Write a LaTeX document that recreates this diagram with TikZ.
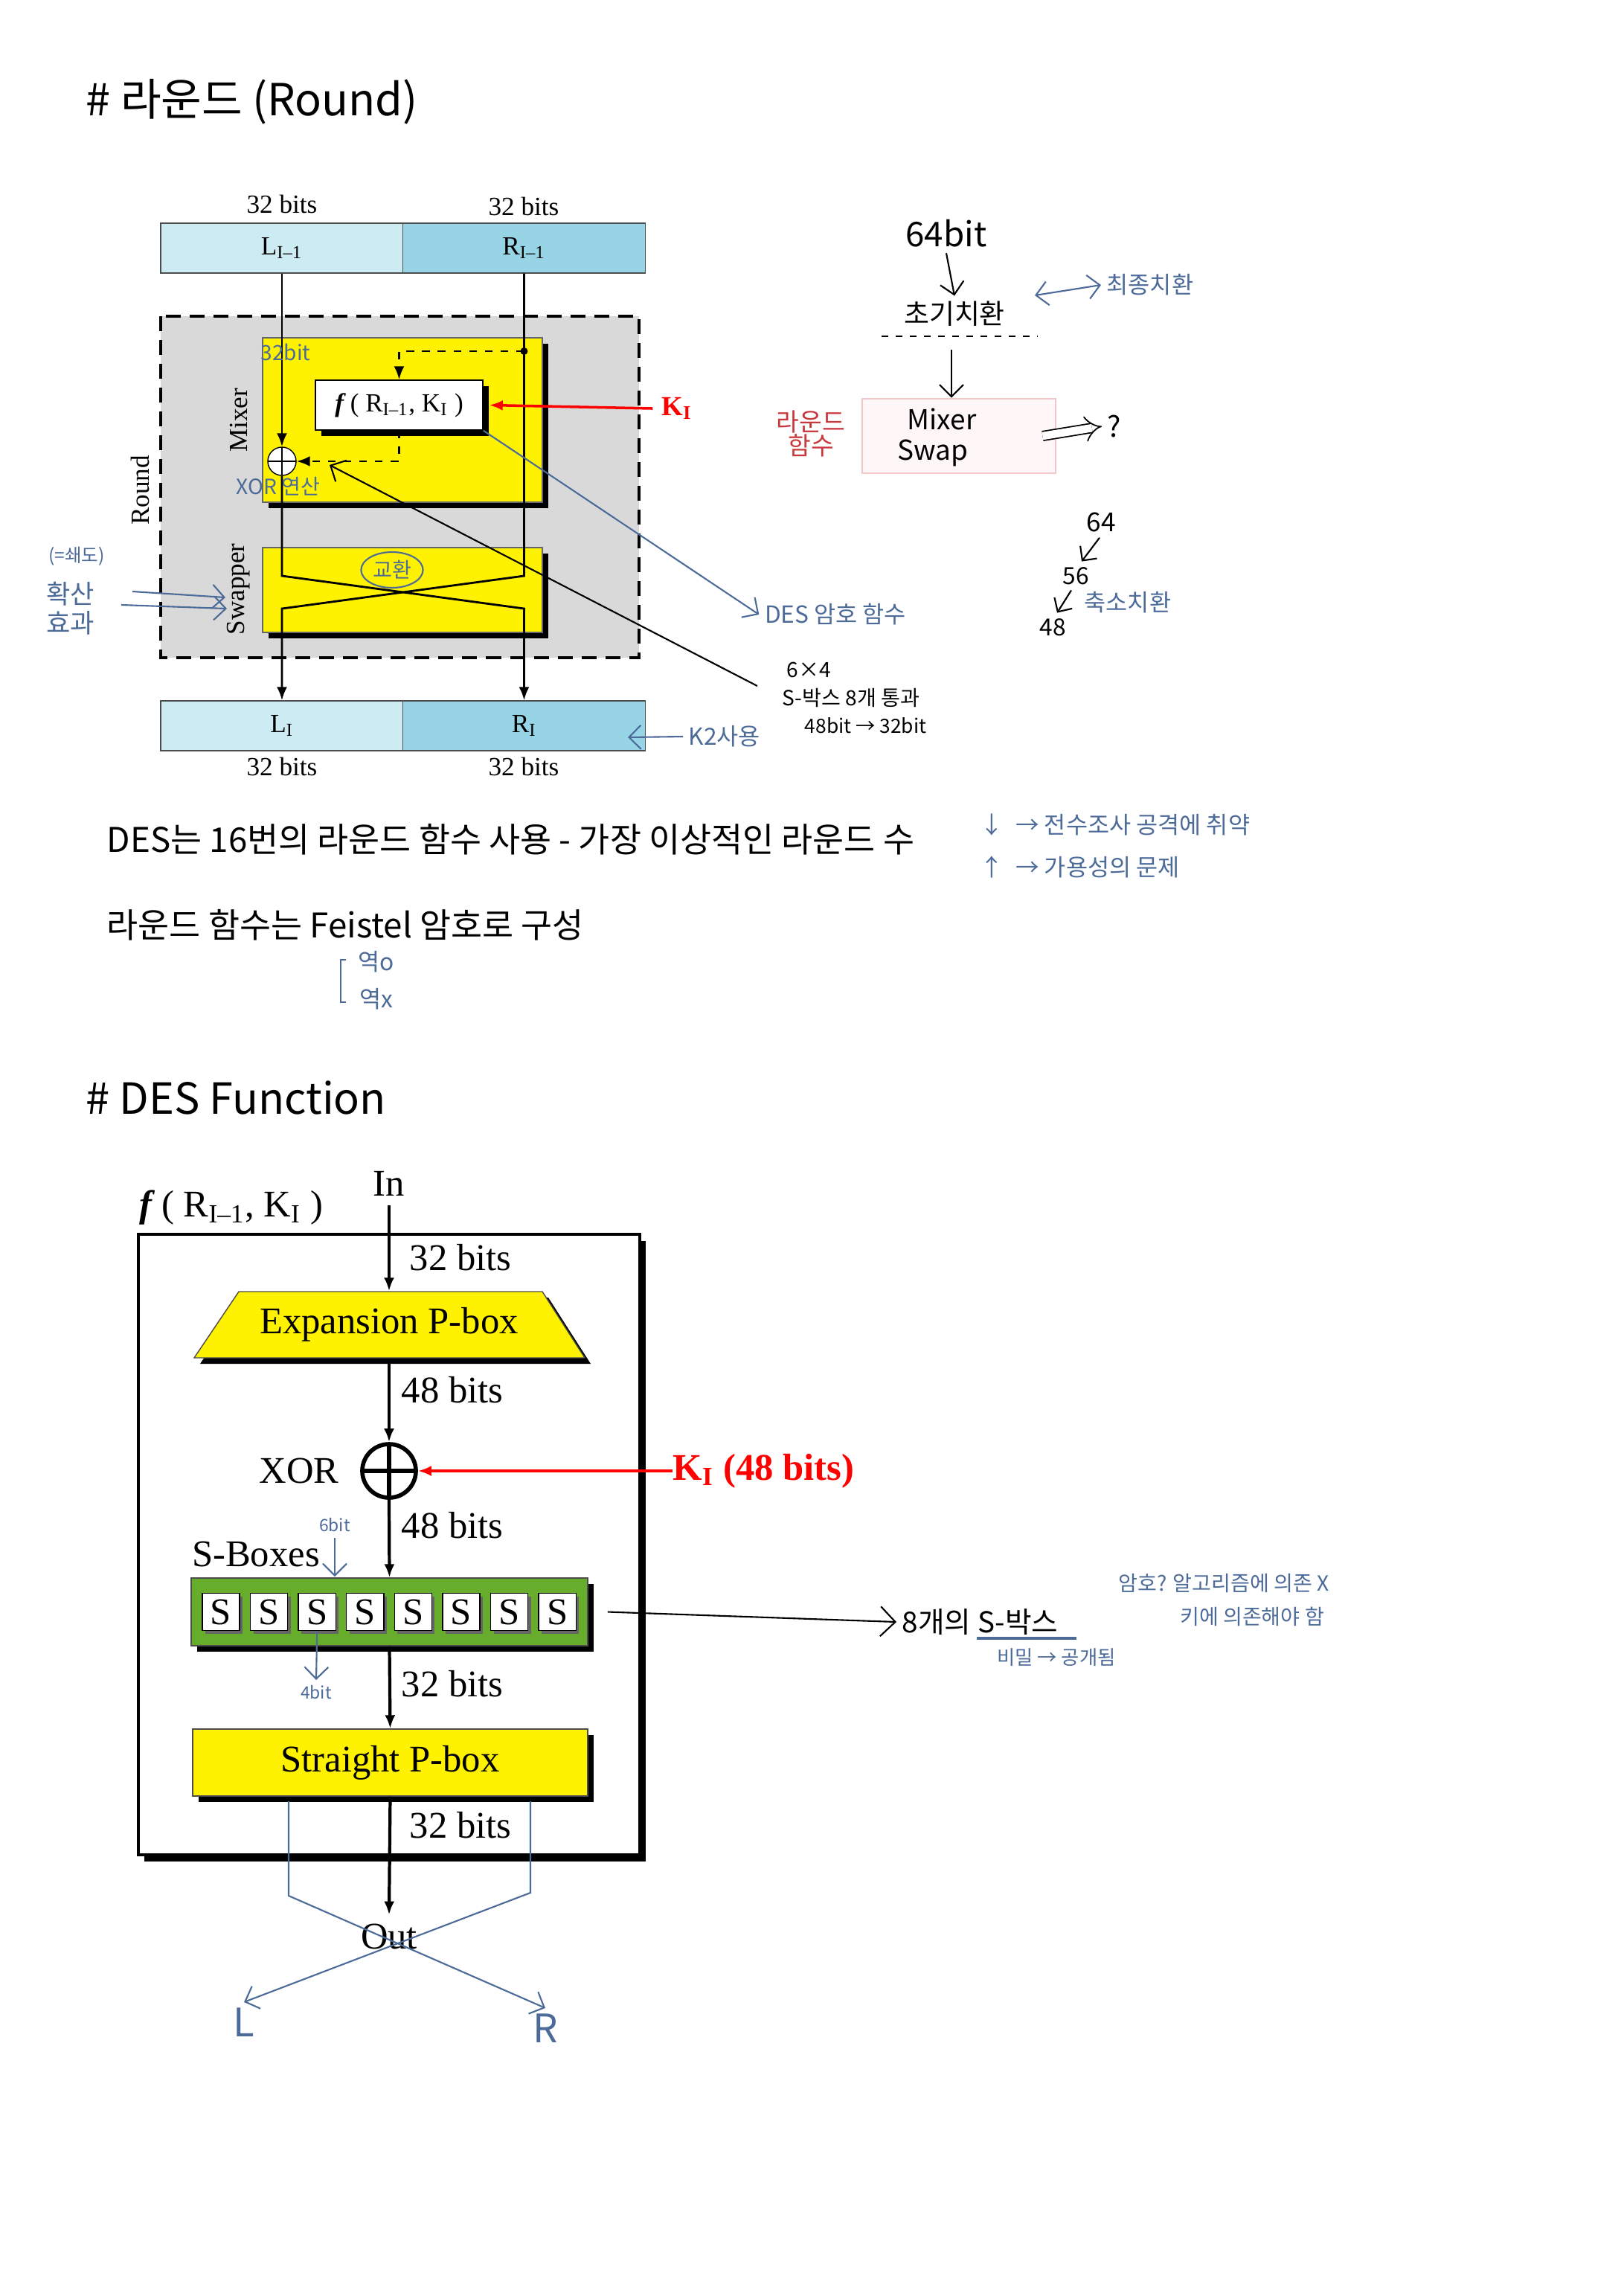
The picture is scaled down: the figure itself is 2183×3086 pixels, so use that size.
\documentclass[tikz,border=0pt]{standalone}
\usepackage{fontspec}
\setmainfont{Liberation Serif}
\newfontfamily\kr{Noto Sans CJK KR}
\usetikzlibrary{arrows.meta,positioning,shapes.geometric,shadows}

\definecolor{cyanA}{HTML}{CDEBF3}
\definecolor{cyanB}{HTML}{97D5E6}
\definecolor{grayR}{HTML}{D9D9D9}
\definecolor{sgreen}{HTML}{66AD2C}
\definecolor{pen}{HTML}{4D6B99}
\definecolor{redpen}{HTML}{C8373C}
\definecolor{pinkline}{HTML}{F3C6C8}
\definecolor{pinkfill}{HTML}{FFF7F7}

\begin{document}
\begin{tikzpicture}[x=0.01cm,y=-0.01cm,>={Latex[length=1.8mm,width=1.4mm]},
  fig/.style={font=\fontsize{10}{12}\selectfont},
  fbig/.style={font=\fontsize{14.4}{17}\selectfont},
  cellA/.style={draw=black!70,fill=cyanA,minimum width=3.26cm,minimum height=0.67cm,inner sep=0pt,fig},
  cellB/.style={cellA,fill=cyanB},
  shad/.style={drop shadow={shadow xshift=0.08cm,shadow yshift=-0.08cm,opacity=1,fill=black}},
  ybox/.style={draw=black!60,fill=yellow,inner sep=0pt,shad},
  xorc/.style={circle,draw,fill=white,inner sep=0pt,
    path picture={\draw (path picture bounding box.north) -- (path picture bounding box.south)
      (path picture bounding box.west) -- (path picture bounding box.east);}},
  scell/.style={draw,fill=white,minimum width=0.5cm,minimum height=0.5cm,inner sep=0pt,fbig,
    drop shadow={shadow xshift=0.04cm,shadow yshift=-0.04cm,opacity=1,fill=black!60}},
  bitlab/.style={fbig,anchor=west,inner sep=0pt},
  hand/.style={font=\kr\fontsize{9}{11}\selectfont,text=pen,inner sep=2pt},
  handk/.style={hand,text=black},
  penline/.style={draw=pen,line width=0.6pt},
  penarrow/.style={penline,-{Straight Barb[length=1.6mm]}},
  typed/.style={font=\kr\fontsize{13}{15}\selectfont,anchor=west,inner sep=0pt},
  title/.style={font=\kr\fontsize{16.9}{20}\selectfont,anchor=west,inner sep=0pt}]

\fill[white] (0,0) rectangle (2183,3086);
\useasboundingbox (0,0) rectangle (2183,3086);

% ---------------- Round ----------------
\node[title] (t1) at (115,137) {\# 라운드 (Round)};

\node[fig] (b1) at (379,274) {32 bits};
\node[fig] (b2) at (704,277) {32 bits};
\node[cellA] (Lp) at (379,333.5) {L\textsubscript{I–1}};
\node[cellB] (Rp) at (704.5,333.5) {R\textsubscript{I–1}};

\draw[fill=grayR,line width=1.1pt,dash pattern=on 0.2cm off 0.12cm] (216,425) rectangle (859,884);
\node[fig,rotate=90] (lround) at (188,659) {Round};

\node[ybox,minimum width=3.76cm,minimum height=2.21cm] (mix) at (541,564.5) {};
\node[fig,rotate=90] (lmix) at (321,565) {Mixer};
\node[draw,fill=white,inner sep=0pt,minimum width=2.25cm,minimum height=0.67cm,fig,shad] (fb) at (536.5,544.5)
  {\textbf{\textit{f}}\,( R\textsubscript{I–1}, K\textsubscript{I} )};
\node[xorc,minimum size=0.38cm] (x1) at (379,620) {};
\coordinate (dot) at (704.5,472);
\fill (dot) circle (5);

\node[ybox,minimum width=3.76cm,minimum height=1.14cm] (swp) at (541,793) {};
\node[fig,rotate=90] (lswp) at (321,792) {Swapper};

\node[cellA] (Ln) at (379,975.5) {L\textsubscript{I}};
\node[cellB] (Rn) at (704.5,975.5) {R\textsubscript{I}};
\node[fig] (b3) at (379,1030) {32 bits};
\node[fig] (b4) at (704,1030) {32 bits};

\coordinate (c1) at (379,774);
\coordinate (c2) at (704.5,774);
\coordinate (c3) at (379,818);
\coordinate (c4) at (704.5,818);
\begin{scope}[line width=0.8pt]
\draw[->] (Lp.south) -- (x1.north);
\draw[->] (x1.south) -- (c1) -- (c4) -- (Rn.north);
\draw[->] (Rp.south) -- (c2) -- (c3) -- (Ln.north);
\draw[dashed,->] (dot) -| (fb.north);
\draw[dashed,->] (fb.south) |- (x1.east);
\end{scope}

\node[fig,text=red,font=\fontsize{10.5}{12}\selectfont\bfseries] (k1) at (910,549) {K\textsubscript{I}};
\draw[red,line width=1pt,->] (k1.west) -- ([xshift=0.08cm]fb.east);

% notes on the round
\node[hand,font=\kr\fontsize{8}{10}\selectfont] (n32) at (384,473) {32bit};
\node[hand,font=\kr\fontsize{8}{10}\selectfont] (nxor) at (374,654) {XOR 연산};
\node[hand,draw=pen,ellipse,line width=0.6pt,inner sep=1pt,minimum width=0.82cm,minimum height=0.48cm,
  font=\kr\fontsize{8}{10}\selectfont] (nswap) at (527,766) {교환};
\node[hand] (desfn) at (1123,826) {DES 암호 함수};
\draw[penarrow] (fb.south east) -- (desfn.west);

\node[handk,anchor=west,font=\kr\fontsize{8}{10}\selectfont] (sb1) at (1050,900) {6×4};
\node[handk,anchor=west,font=\kr\fontsize{8}{10}\selectfont] (sb2) at (1044,938) {S-박스 8개 통과};
\node[handk,anchor=west,font=\kr\fontsize{7.5}{9}\selectfont] (sb3) at (1074,975) {48bit → 32bit};
\coordinate (sbend) at (1018,922);
\coordinate (hit) at (443,625);
\draw[line width=0.6pt,-{Straight Barb[length=1.6mm]}] (sbend) -- (hit);

\node[hand,font=\kr\fontsize{7}{9}\selectfont] (nav) at (103,748) {(=쇄도)};
\node[hand,font=\kr\fontsize{10}{12}\selectfont,align=center] (ndif) at (95,818) {확산\\[-1pt]효과};
\draw[penarrow] (178,795) -- (303,803);
\draw[penarrow] (163,813) -- (305,818);

\node[hand,anchor=west,font=\kr\fontsize{9}{11}\selectfont] (k2) at (918,990) {K2사용};
\draw[penarrow] (k2.west) -- (844,991);

% ---------------- side notes ----------------
\node[handk,font=\kr\fontsize{13}{15}\selectfont] (b64) at (1272,314) {64bit};
\node[handk,font=\kr\fontsize{10.5}{12}\selectfont] (ip) at (1283,422) {초기치환};
\draw[line width=0.6pt,->,>={Straight Barb[length=1.6mm]}] (b64.south) -- (ip.north);
\draw[line width=0.7pt,dash pattern=on 0.09cm off 0.1cm] (1185,452) -- (1395,452);
\node[draw=pinkline,fill=pinkfill,line width=0.8pt,minimum width=2.6cm,minimum height=1.0cm] (rf) at (1289,586) {};
\draw[line width=0.6pt,-{Straight Barb[length=1.6mm]}] (1279,470) -- (rf.north -| 1279,0);
\node[handk,font=\kr\fontsize{10.5}{12}\selectfont] (nmix) at (1266,563) {Mixer};
\node[handk,font=\kr\fontsize{10.5}{12}\selectfont] (nswp) at (1254,609) {Swap};
\node[hand,text=redpen,align=center,font=\kr\fontsize{9.5}{11}\selectfont] (nrf) at (1090,583) {라운드\\[-2pt]함수};
\node[handk,font=\kr\fontsize{11}{13}\selectfont] (q) at (1498,573) {?};
\draw[line width=0.5pt,double,double distance=3pt,-{Implies}] ([xshift=-0.19cm]rf.east) -- (q.west);
\node[hand,anchor=west,font=\kr\fontsize{9}{11}\selectfont] (fp) at (1480,383) {최종치환};
\draw[penline,{Straight Barb[length=1.6mm]}-{Straight Barb[length=1.6mm]}] (1391,397) -- (fp.west);

\node[handk,font=\kr\fontsize{10}{12}\selectfont] (k64) at (1480,702) {64};
\node[handk,font=\kr\fontsize{9}{11}\selectfont] (k56) at (1446,774) {56};
\node[handk,font=\kr\fontsize{9}{11}\selectfont] (k48) at (1415,843) {48};
\draw[line width=0.6pt,-{Straight Barb[length=1.4mm]}] ([xshift=-0.02cm]k64.south) -- ([xshift=0.08cm]k56.north);
\draw[line width=0.6pt,-{Straight Barb[length=1.4mm]}] ([xshift=-0.06cm]k56.south) -- ([xshift=0.06cm]k48.north);
\node[hand,anchor=west,font=\kr\fontsize{9}{11}\selectfont] (pc) at (1450,810) {축소치환};

% ---------------- typed lines ----------------
\node[typed] (l1) at (143,1128) {DES는 16번의 라운드 함수 사용 - 가장 이상적인 라운드 수};
\node[typed] (l2) at (143,1243) {라운드 함수는 Feistel 암호로 구성};
\node[hand,anchor=west,font=\kr\fontsize{9}{11}\selectfont] (m1) at (1310,1109) {↓ \;→ 전수조사 공격에 취약};
\node[hand,anchor=west,font=\kr\fontsize{9}{11}\selectfont] (m2) at (1310,1165) {↑ \;→ 가용성의 문제};
\draw[penline] (465,1290) -- (458,1290) -- (458,1347) -- (465,1347);
\node[hand,font=\kr\fontsize{9}{11}\selectfont] (inv1) at (506,1293) {역o};
\node[hand,font=\kr\fontsize{9}{11}\selectfont] (inv2) at (506,1343) {역x};

% ---------------- DES Function ----------------
\node[title,font=\kr\fontsize{16.4}{20}\selectfont] (t2) at (115,1475) {\# DES Function};

\node[draw,line width=1.2pt,fill=white,minimum width=6.74cm,minimum height=8.34cm,
  drop shadow={shadow xshift=0.08cm,shadow yshift=-0.09cm,opacity=1,fill=black}] (fbox) at (523,2076) {};
\node[fbig] (fn) at (311,1623) {\textbf{\textit{f}}\,( R\textsubscript{I–1}, K\textsubscript{I} )};
\node[fbig] (in) at (523,1591) {In};
\draw[draw=black!70,fill=yellow,shad] (321,1736) -- (729,1736) -- (786,1825) -- (261,1825) -- cycle;
\node[fbig,minimum height=0.89cm,inner sep=0pt] (ex) at (523,1780.5) {Expansion P-box};
\node[xorc,line width=1.6pt,minimum size=0.72cm] (x2) at (523,1977) {};
\node[fbig,anchor=east] (lxor) at (468,1977) {XOR};
\node[draw=black!70,fill=sgreen,minimum width=5.33cm,minimum height=0.91cm,inner sep=0pt,shad] (sb) at (523.5,2166.5) {};
\foreach \i in {0,...,7}
  \node[scell] (s\i) at ({297+64.6*\i},2166.5) {S};
\node[fbig] (lsb) at (344,2089) {S-Boxes};
\node[draw=black!70,fill=yellow,minimum width=5.31cm,minimum height=0.9cm,inner sep=0pt,fbig,shad] (sp) at (524.5,2369) {Straight P-box};
\node[fbig] (out) at (523,2603) {Out};

\begin{scope}[line width=1.2pt]
\draw[->] (in) -- (ex.north);
\draw[->] (ex.south) -- (x2.north);
\draw[->] (x2.south) -- (sb.north);
\draw[->] (sb.south) -- (sp.north);
\draw[->] (sp.south) -- (out.north);
\end{scope}

\node[bitlab] at (550,1690) {32 bits};
\node[bitlab] at (539,1868) {48 bits};
\node[bitlab] at (539,2050) {48 bits};
\node[bitlab] at (539,2263) {32 bits};
\node[bitlab] at (550,2453) {32 bits};

\node[bitlab,text=red,font=\fontsize{14.4}{17}\selectfont\bfseries] (k3) at (904,1977) {K\textsubscript{I} (48 bits)};
\draw[red,line width=1.2pt,->] (k3.west) -- (x2.east);

% notes on the function
\node[hand,font=\kr\fontsize{15}{17}\selectfont] (lL) at (328,2718) {L};
\node[hand,font=\kr\fontsize{15}{17}\selectfont] (lR) at (733,2726) {R};
\draw[penarrow] (388,2421) -- (388,2548) -- (lR.north);
\draw[penarrow] (713,2421) -- (713,2544) -- (lL.north);
\node[hand,font=\kr\fontsize{6.5}{8}\selectfont] (b6) at (450,2050) {6bit};
\draw[penarrow] (b6.south) -- ++(0,52);
\node[hand,font=\kr\fontsize{6.5}{8}\selectfont] (b4n) at (425,2275) {4bit};
\draw[penarrow] (s2.south) -- (b4n.north);

\node[handk,anchor=west,font=\kr\fontsize{11}{13}\selectfont] (s8) at (1205,2180) {8개의 S-박스};
\draw[line width=0.6pt,-{Straight Barb[length=2mm]}] ([xshift=0.26cm]sb.east) -- (s8.west);
\draw[penline,line width=0.9pt] (1313,2202) -- (1447,2202);
\node[hand,font=\kr\fontsize{7.5}{9}\selectfont] (pub) at (1420,2228) {비밀 → 공개됨};
\node[hand,font=\kr\fontsize{8}{10}\selectfont] (alg) at (1645,2128) {암호? 알고리즘에 의존 X};
\node[hand,font=\kr\fontsize{8}{10}\selectfont] (key) at (1683,2173) {키에 의존해야 함};

\end{tikzpicture}
\end{document}
